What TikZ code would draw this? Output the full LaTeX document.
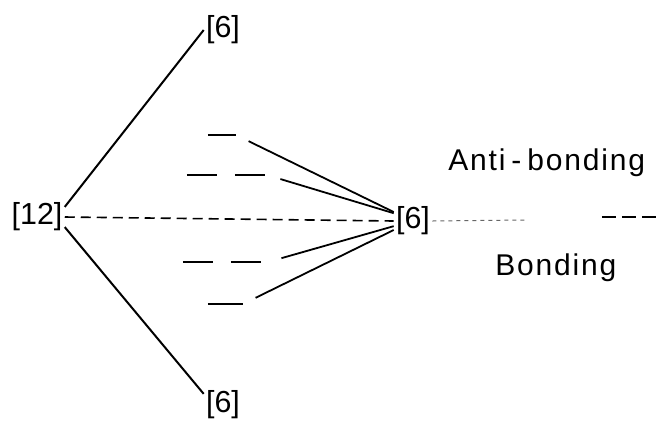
\documentclass[tikz,border=0pt]{standalone}
\usepackage{fontspec}
\setmainfont{Liberation Sans}
\newfontfamily\spacedfont[LetterSpace=6]{Liberation Sans}

\begin{document}
\begin{tikzpicture}[x=0.5pt, y=-0.5pt,
  frag/.style={inner sep=1pt, font=\fontsize{15.2}{17}\selectfont},
  band/.style={inner sep=0pt, anchor=base west, font=\spacedfont\fontsize{15}{18}\selectfont},
  orb/.style={line width=1pt},
  pairorb/.style={line width=1pt, dash pattern=on 15pt off 9pt},
  bond/.style={line width=0.9pt, shorten <=7pt},
  nonb/.style={line width=0.8pt, dash pattern=on 5pt off 3pt},
  pairlvl/.style={line width=1pt, dash pattern=on 7pt off 3pt},
  weak/.style={line width=0.5pt, black!60, dash pattern=on 2pt off 2pt},
]
\useasboundingbox (0,0) rectangle (661,420);

% Fragments
\node[frag] (m12) at (37,217) {[12]};
\node[frag] (t6) at (223,30) {[6]};
\node[frag] (b6) at (223,405) {[6]};
\node[frag] (c6) at (413,221) {[6]};

% Levels (middle column)
\coordinate (lv1a) at (208,135); \coordinate (lv1b) at (236,135);
\coordinate (lv2a) at (187,175); \coordinate (lv2b) at (267,175);
\coordinate (lv3a) at (183,262); \coordinate (lv3b) at (268,262);
\coordinate (lv4a) at (208,304); \coordinate (lv4b) at (243,304);
\draw[orb] (lv1a) -- (lv1b);
\draw[pairorb] (lv2a) -- (lv2b);
\draw[pairorb] (lv3a) -- (lv3b);
\draw[orb] (lv4a) -- (lv4b);

% Level on the right
\coordinate (rl) at (525,220);
\coordinate (rla) at (602,217); \coordinate (rlb) at (660,217);
\draw[pairlvl] (rla) -- (rlb);

% Connectors
\draw[orb] (m12.20) -- (t6.west);
\draw[orb] (m12.-20) -- (b6.150);
\draw[nonb] (m12.east) -- (c6.west);
\draw[bond] (lv1b) -- (c6.155);
\draw[bond] (lv2b) -- (c6.158);
\draw[bond] (lv3b) -- (c6.-165);
\draw[bond] (lv4b) -- (c6.-155);
\draw[weak] (c6.east) -- (rl);

% Labels
\node[band] (ab) at (448,170) {Anti\kern3pt-\kern3pt bonding};
\node[band] (bo) at (495,275) {Bonding};

\end{tikzpicture}
\end{document}
